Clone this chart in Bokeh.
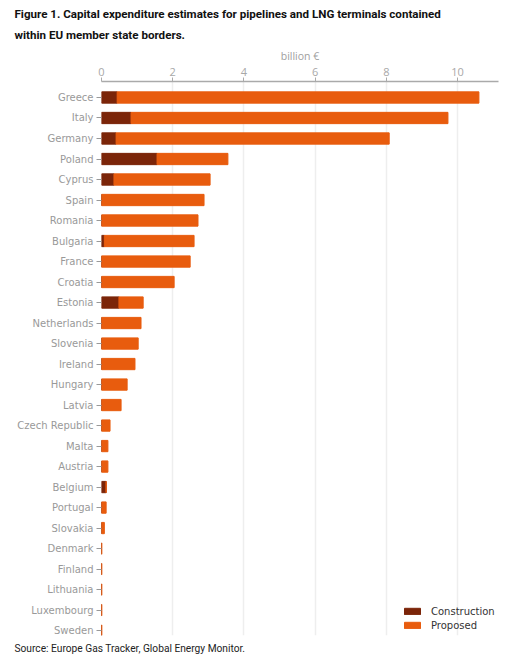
from bokeh.plotting import figure
from bokeh.models import Range1d, FixedTicker, Title, ColumnDataSource
from bokeh.embed import file_html
from bokeh.resources import INLINE

countries = ["Greece", "Italy", "Germany", "Poland", "Cyprus", "Spain", "Romania",
             "Bulgaria", "France", "Croatia", "Estonia", "Netherlands", "Slovenia",
             "Ireland", "Hungary", "Latvia", "Czech Republic", "Malta", "Austria",
             "Belgium", "Portugal", "Slovakia", "Denmark", "Finland", "Lithuania",
             "Luxembourg", "Sweden"]
construction = [0.44, 0.83, 0.41, 1.56, 0.35, 0.0, 0.0, 0.08, 0.0, 0.0, 0.49, 0.0, 0.0,
                0.0, 0.0, 0.0, 0.0, 0.0, 0.0, 0.13, 0.0, 0.0, 0.0, 0.0, 0.0, 0.0, 0.0]
proposed = [10.16, 8.90, 7.67, 1.99, 2.70, 2.88, 2.71, 2.52, 2.49, 2.04, 0.68, 1.11, 1.03,
            0.94, 0.72, 0.55, 0.24, 0.18, 0.18, 0.0, 0.13, 0.08, 0.01, 0.01, 0.01, 0.01, 0.01]
x_ticks = [0, 2, 4, 6, 8, 10]

C_CON = "#7b2509"
C_PRO = "#e85c0e"

idx = list(range(len(countries)))
total = [c + q for c, q in zip(construction, proposed)]
src = ColumnDataSource(dict(y=idx, con=construction, tot=total, name=countries))

p = figure(width=524, height=670, output_backend="svg", toolbar_location=None,
           x_range=Range1d(0, 11.15), y_range=Range1d(26.24, -0.78),
           x_axis_location="above", title=None,
           min_border_left=101, min_border_right=26, min_border_top=81,
           min_border_bottom=35)
p.outline_line_color = None
p.background_fill_color = "white"
p.border_fill_color = "white"

p.hbar(y="y", left=0, right="con", height=0.55, color=C_CON, source=src,
       legend_label="Construction")
p.hbar(y="y", left="con", right="tot", height=0.55, color=C_PRO, source=src,
       legend_label="Proposed")

# x axis (top)
xa = p.xaxis[0]
xa.ticker = FixedTicker(ticks=x_ticks)
xa.axis_label = "billion €"
xa.axis_label_text_font = "Open Sans"
xa.axis_label_text_font_style = "normal"
xa.axis_label_text_font_size = "10.5px"
xa.axis_label_text_color = "#a0a0a0"
xa.axis_label_standoff = 2
xa.major_label_text_font = "Open Sans"
xa.major_label_text_font_size = "11px"
xa.major_label_text_color = "#a8a8a8"
xa.major_label_standoff = 2
xa.axis_line_color = "#aaaaaa"
xa.axis_line_width = 1.5
xa.major_tick_line_color = "#aaaaaa"
xa.major_tick_out = 4
xa.major_tick_in = 0
xa.minor_tick_line_color = None

# y axis
ya = p.yaxis[0]
ya.ticker = FixedTicker(ticks=idx)
ya.major_label_overrides = {i: n for i, n in zip(idx, countries)}
ya.major_label_text_font = "DejaVu Sans"
ya.major_label_text_font_size = "10px"
ya.major_label_text_color = "#999999"
ya.major_label_standoff = 3
ya.axis_line_color = None
ya.major_tick_line_color = "#999999"
ya.major_tick_out = 5
ya.major_tick_in = 0
ya.minor_tick_line_color = None

p.xgrid.ticker = FixedTicker(ticks=x_ticks)
p.xgrid.grid_line_color = "#eeeeee"
p.xgrid.grid_line_width = 1.5
p.ygrid.grid_line_color = None

# legend
lg = p.legend[0]
lg.location = (301, 3)
lg.padding = 0
lg.spacing = 0
lg.margin = 0
lg.glyph_width = 20
lg.glyph_height = 8
lg.label_height = 14
lg.label_standoff = 9
lg.label_text_font = "DejaVu Sans"
lg.label_text_font_size = "10px"
lg.label_text_color = "#333333"
lg.border_line_color = None
lg.background_fill_alpha = 0

# titles
t2 = Title(text="within EU member state borders.", align="left", offset=-87,
           text_font="Roboto", text_font_size="11.6px",
           text_font_style="bold", text_color="#111111", standoff=7)
t1 = Title(text="Figure 1. Capital expenditure estimates for pipelines and LNG terminals contained",
           align="left", offset=-87, text_font="Roboto",
           text_font_size="11.6px", text_font_style="bold", text_color="#111111",
           standoff=3)
p.add_layout(t2, "above")
p.add_layout(t1, "above")

src_t = Title(text="Source: Europe Gas Tracker, Global Energy Monitor.", align="left",
              offset=-87, text_font="Roboto", text_font_size="10.2px",
              text_font_style="normal", text_color="#222222", standoff=10)
p.add_layout(src_t, "below")

open("out.html", "w").write(file_html(p, INLINE))
